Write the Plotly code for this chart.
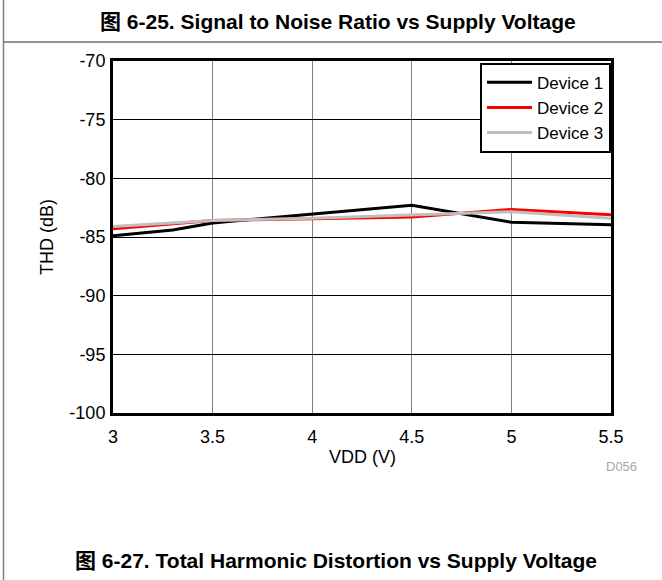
import plotly.graph_objects as go

# Data
vdd_dev1 = [3.0, 3.3, 3.5, 4.0, 4.5, 5.0, 5.5]
thd_dev1 = [-84.9, -84.4, -83.8, -83.05, -82.3, -83.75, -83.95]
vdd_dev23 = [3.0, 3.5, 4.0, 4.5, 5.0, 5.5]
thd_dev2 = [-84.3, -83.6, -83.45, -83.3, -82.65, -83.1]
thd_dev3 = [-84.1, -83.6, -83.4, -83.15, -82.85, -83.4]

x_ticks = [3, 3.5, 4, 4.5, 5, 5.5]
x_ticklabels = ["3", "3.5", "4", "4.5", "5", "5.5"]
y_ticks = [-100, -95, -90, -85, -80, -75, -70]
y_ticklabels = ["-100", "-95", "-90", "-85", "-80", "-75", "-70"]

FONT = "Liberation Sans, Arial, Noto Sans CJK SC, sans-serif"

W, H = 662, 580
L, R, T, B = 113, 611, 61, 413  # plot area pixel box


def px_x(p):
    return (p - L) / (R - L)


def px_y(p):
    return (B - p) / (B - T)


fig = go.Figure()
fig.add_trace(go.Scatter(x=vdd_dev1, y=thd_dev1, mode="lines", name="Device 1",
                         line=dict(color="#000000", width=3)))
fig.add_trace(go.Scatter(x=vdd_dev23, y=thd_dev2, mode="lines", name="Device 2",
                         line=dict(color="#ff0000", width=3)))
fig.add_trace(go.Scatter(x=vdd_dev23, y=thd_dev3, mode="lines", name="Device 3",
                         line=dict(color="#bfbfbf", width=3)))

fig.update_layout(
    width=W, height=H,
    margin=dict(l=L, r=W - R, t=T, b=H - B, pad=0),
    paper_bgcolor="white", plot_bgcolor="white",
    font=dict(family=FONT, size=18, color="#000000"),
    showlegend=True,
    legend=dict(x=1, y=0.995, xanchor="right", yanchor="top",
                bgcolor="white", bordercolor="#000000", borderwidth=2,
                font=dict(family=FONT, size=17, color="#000000"),
                itemwidth=45, tracegroupgap=0),
    xaxis=dict(range=[3, 5.5], tickvals=x_ticks, ticktext=x_ticklabels,
               showgrid=True, gridcolor="#808080", gridwidth=1,
               showline=True, linecolor="#000000", linewidth=3, mirror=True,
               ticks="", ticklabelstandoff=5, zeroline=False,
               tickfont=dict(size=18)),
    yaxis=dict(range=[-100, -70], tickvals=y_ticks, ticktext=y_ticklabels,
               showgrid=True, gridcolor="#000000", gridwidth=1,
               showline=True, linecolor="#000000", linewidth=3, mirror=True,
               ticks="", ticklabelstandoff=1, zeroline=False,
               tickfont=dict(size=18)),
    annotations=[
        dict(text="VDD (V)", xref="paper", yref="paper", x=0.5, y=px_y(457),
             xanchor="center", yanchor="middle", showarrow=False,
             font=dict(family=FONT, size=18, color="#000000")),
        dict(text="THD (dB)", xref="paper", yref="paper", x=px_x(47), y=0.5,
             xanchor="center", yanchor="middle", showarrow=False, textangle=-90,
             font=dict(family=FONT, size=18, color="#000000")),
        dict(text="<b>图 6-25. Signal to Noise Ratio vs Supply Voltage</b>",
             xref="paper", yref="paper", x=px_x(338), y=px_y(21),
             xanchor="center", yanchor="middle", showarrow=False,
             font=dict(family=FONT, size=21, color="#000000")),
        dict(text="<b>图 6-27. Total Harmonic Distortion vs Supply Voltage</b>",
             xref="paper", yref="paper", x=px_x(336), y=px_y(560),
             xanchor="center", yanchor="middle", showarrow=False,
             font=dict(family=FONT, size=21, color="#000000")),
        dict(text="D056", xref="paper", yref="paper", x=px_x(639), y=px_y(466),
             xanchor="right", yanchor="middle", showarrow=False,
             font=dict(family=FONT, size=13, color="#a6a6a6")),
    ],
    shapes=[
        dict(type="line", xref="paper", yref="paper",
             x0=px_x(3.5), x1=px_x(3.5), y0=px_y(0), y1=px_y(580),
             line=dict(color="#7f7f7f", width=1.5)),
        dict(type="line", xref="paper", yref="paper",
             x0=px_x(3.5), x1=px_x(662), y0=px_y(42), y1=px_y(42),
             line=dict(color="#6f6f6f", width=1.5)),
    ],
)

fig.write_html("out.html", config={"displayModeBar": False},
               post_script="document.body.style.margin='0px';")
